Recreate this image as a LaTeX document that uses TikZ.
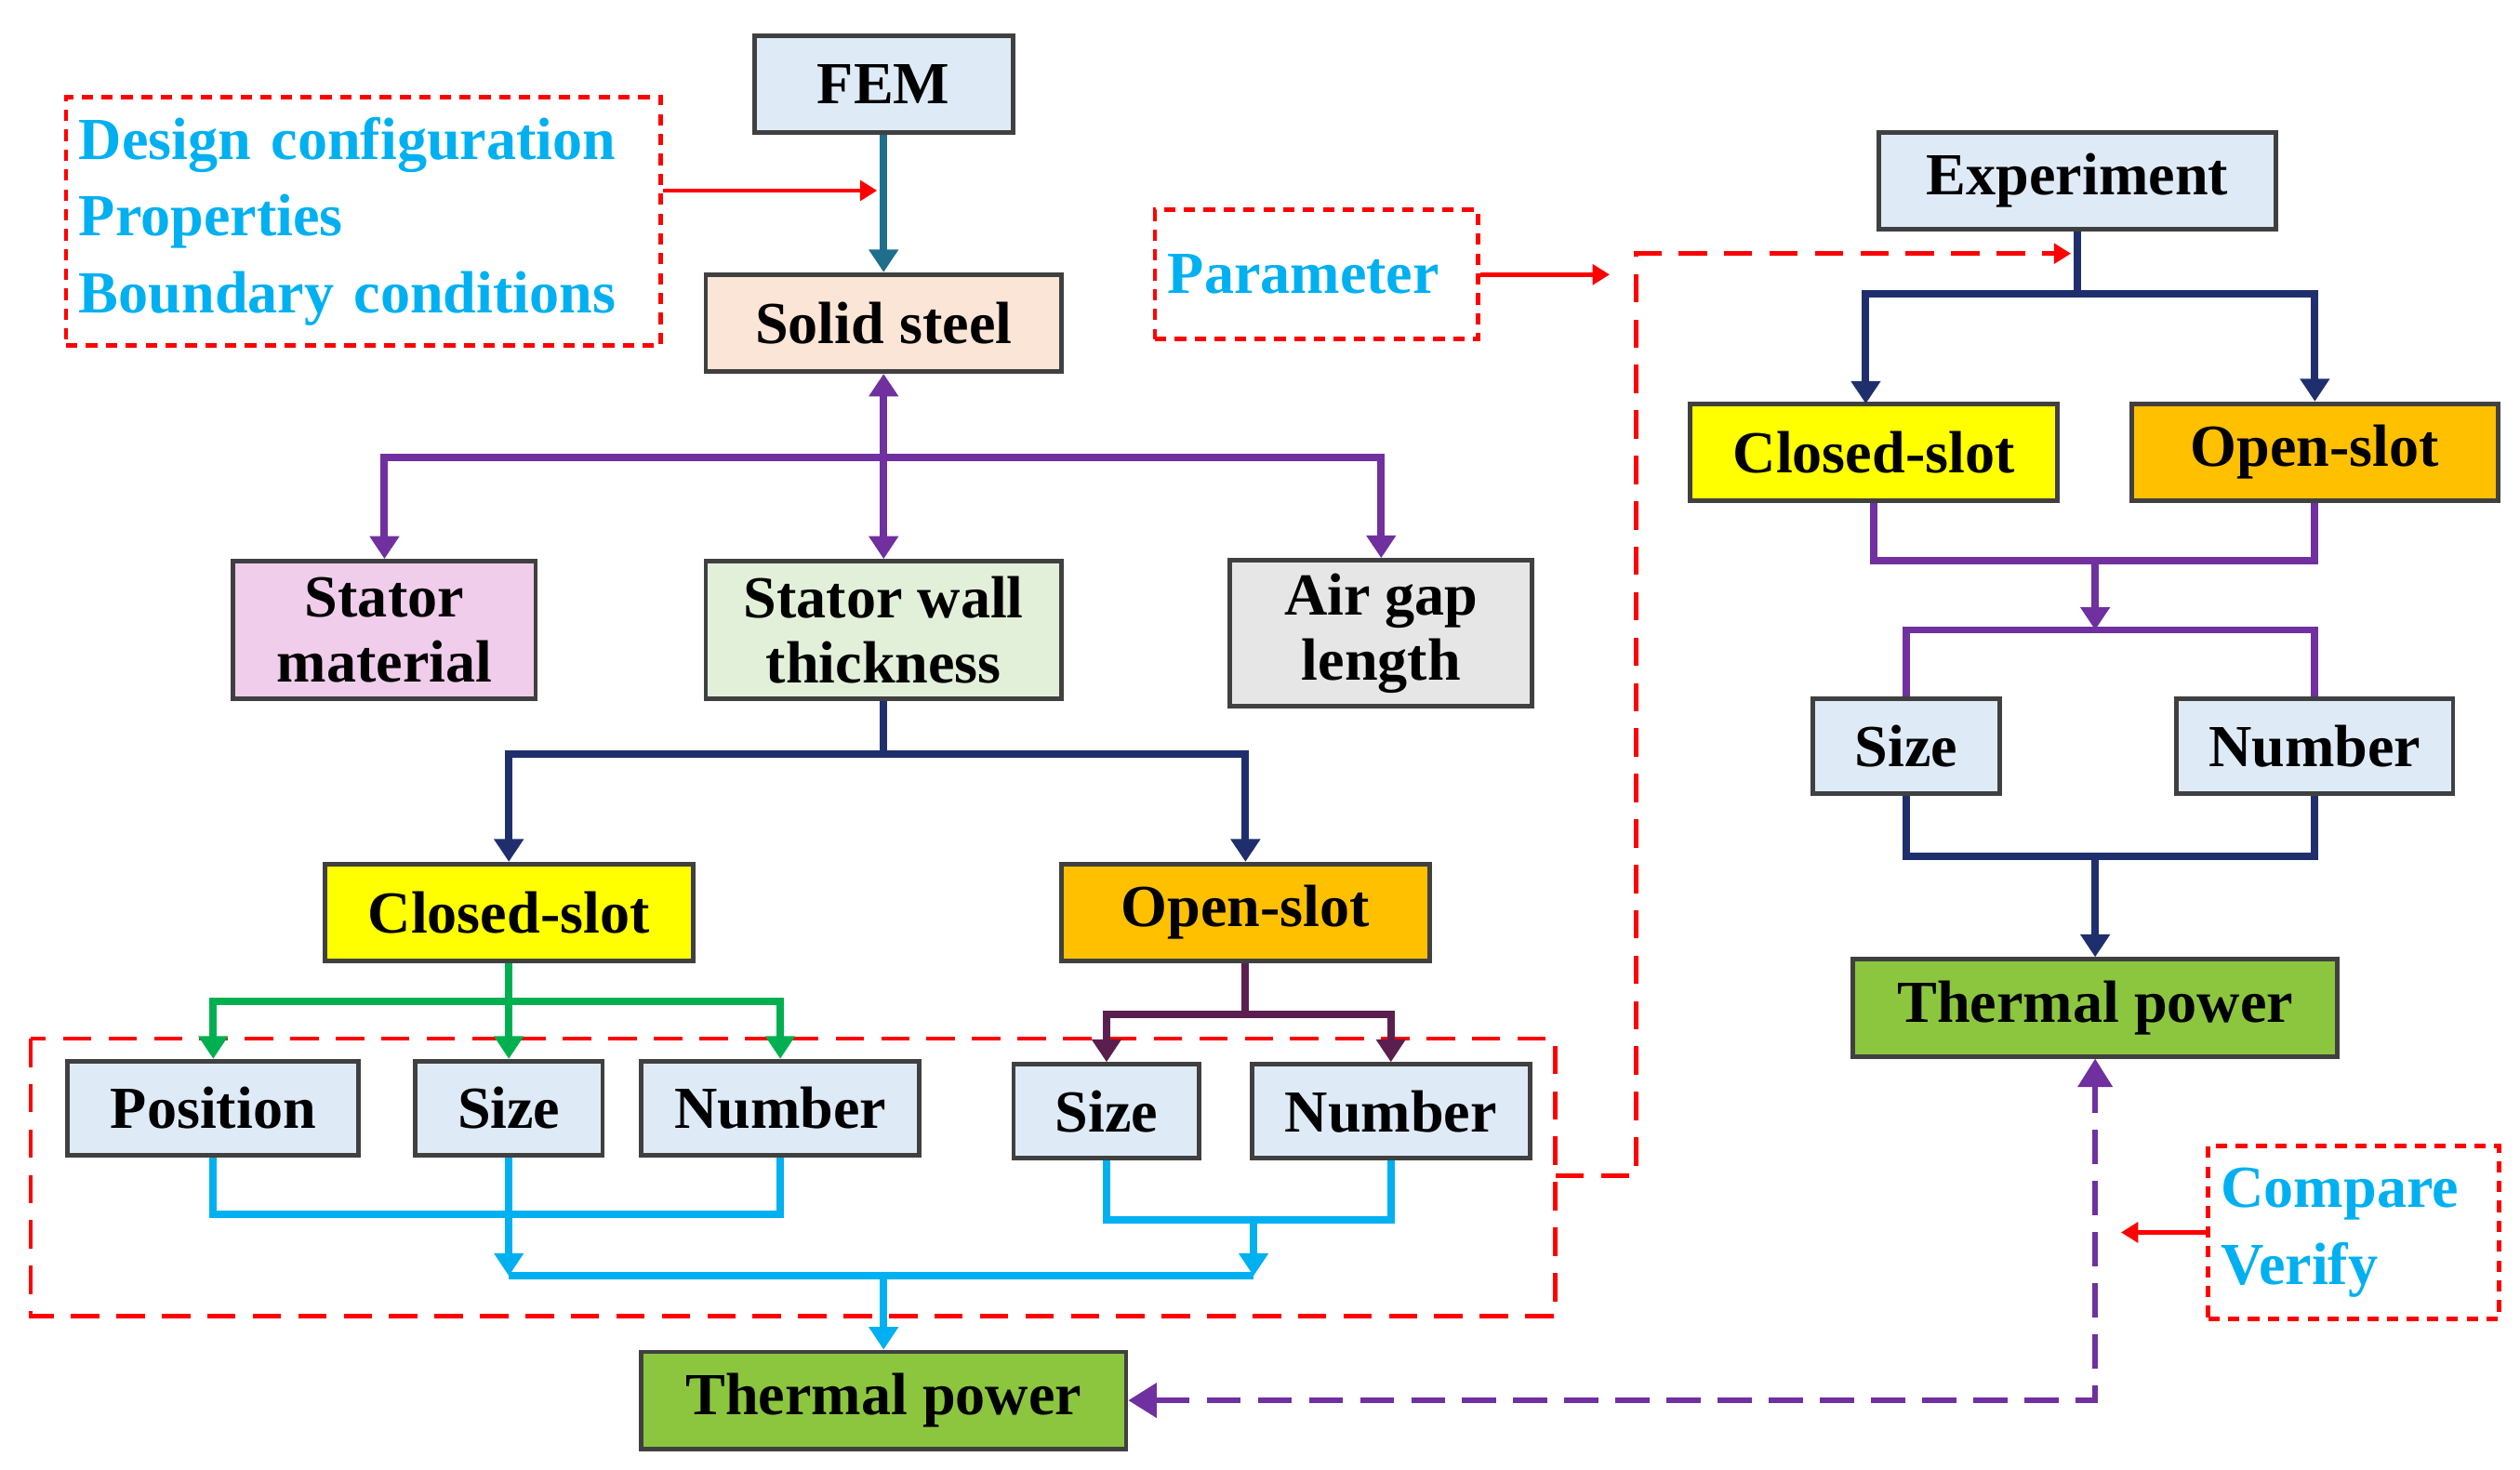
\documentclass[tikz,border=0pt]{standalone}
\usepackage{fontspec}
\setmainfont{Liberation Serif}
\usetikzlibrary{arrows.meta}
\definecolor{cBlue}{HTML}{DEEBF7}
\definecolor{cPeach}{HTML}{FBE5D6}
\definecolor{cPink}{HTML}{F0CDEB}
\definecolor{cMint}{HTML}{E2F0D9}
\definecolor{cGray}{HTML}{E7E6E6}
\definecolor{cYel}{HTML}{FFFF00}
\definecolor{cOra}{HTML}{FFC000}
\definecolor{cGrn}{HTML}{8CC63F}
\definecolor{cTxt}{HTML}{00B0F0}
\definecolor{cPur}{HTML}{7030A0}
\definecolor{cNavy}{HTML}{1F2F6E}
\definecolor{cTeal}{HTML}{1F6E8C}
\definecolor{cGL}{HTML}{00B050}
\definecolor{cPlum}{HTML}{5B1F4F}
\begin{document}
\begin{tikzpicture}[x=0.01cm,y=-0.01cm,
  box/.style={draw=black!75, line width=0.8pt, font=\fontsize{10.5}{11.5}\selectfont\bfseries, align=center, inner sep=1pt},
  note/.style={draw=red, dashed, dash pattern=on 2pt off 1.5pt, line width=0.8pt, font=\fontsize{10.5}{13.5}\selectfont\bfseries, text=cTxt, align=left, inner xsep=0.08cm, inner ysep=2pt},
  ln/.style={line width=1.3pt},
  arr/.style={ln, -{Triangle[length=4pt,width=5pt]}},
  red arr/.style={draw=red, line width=0.8pt, -{Triangle[length=3pt,width=3.5pt]}}]
\useasboundingbox (0,0) rectangle (1560,910);
% left branch
\node[box, fill=cBlue, minimum width=1.6cm, minimum height=0.6cm] (fem) at (547,52) {FEM};
\node[box, fill=cPeach, minimum width=2.2cm, minimum height=0.6cm] (steel) at (547,200) {Solid steel};
\node[box, fill=cPink, minimum width=1.87cm, minimum height=0.85cm] (smat) at (238,390) {Stator\\material};
\node[box, fill=cMint, minimum width=2.2cm, minimum height=0.85cm] (swall) at (547,390) {Stator wall\\thickness};
\node[box, fill=cGray, minimum width=1.87cm, minimum height=0.9cm] (gap) at (855,392) {Air gap\\length};
\node[box, fill=cYel, minimum width=2.28cm, minimum height=0.6cm] (lclosed) at (315,565) {Closed-slot};
\node[box, fill=cOra, minimum width=2.28cm, minimum height=0.6cm] (lopen) at (771,565) {Open-slot};
\node[box, fill=cBlue, minimum width=1.8cm, minimum height=0.58cm] (pos) at (132,686) {Position};
\node[box, fill=cBlue, minimum width=1.16cm, minimum height=0.58cm] (lsize) at (315,686) {Size};
\node[box, fill=cBlue, minimum width=1.72cm, minimum height=0.58cm] (lnum) at (483,686) {Number};
\node[box, fill=cBlue, minimum width=1.15cm, minimum height=0.58cm] (osize) at (685,688) {Size};
\node[box, fill=cBlue, minimum width=1.72cm, minimum height=0.58cm] (onum) at (861,688) {Number};
\node[box, fill=cGrn, minimum width=3cm, minimum height=0.6cm] (ltp) at (547,867) {Thermal power};
% right branch
\node[box, fill=cBlue, minimum width=2.46cm, minimum height=0.6cm] (exp) at (1286,112) {Experiment};
\node[box, fill=cYel, minimum width=2.27cm, minimum height=0.6cm] (rclosed) at (1160,280) {Closed-slot};
\node[box, fill=cOra, minimum width=2.27cm, minimum height=0.6cm] (ropen) at (1433,280) {Open-slot};
\node[box, fill=cBlue, minimum width=1.16cm, minimum height=0.59cm] (rsize) at (1180,462) {Size};
\node[box, fill=cBlue, minimum width=1.71cm, minimum height=0.59cm] (rnum) at (1433,462) {Number};
\node[box, fill=cGrn, minimum width=3cm, minimum height=0.6cm] (rtp) at (1297,624) {Thermal power};
% notes
\node[note, text width=3.52cm, minimum height=1.54cm] (design) at (225,137) {Design configuration\\Properties\\Boundary conditions};
\node[note, text width=1.84cm, minimum height=0.8cm] (param) at (815,170) {Parameter};
\node[note, text width=1.64cm, minimum height=1.07cm] (comp) at (1457,763) {Compare\\Verify};
\draw[red, dashed, dash pattern=on 5pt off 3pt, line width=0.8pt] (19,643) rectangle (963,815);
\coordinate (rt) at (963,728);
\draw[red, dash pattern=on 5pt off 3pt, line width=0.8pt, -{Triangle[length=3pt,width=3.5pt]}] (rt) -- (1013,728) -- (1013,157) -- (1282,157);
\draw[red arr] (param.east) -- ++(80,0);
\draw[red arr] (design.east |- 0,118) -- (543,118);
\draw[red arr] (comp.west) -- (1313,763);
% connectors left
\draw[arr, cTeal] (fem) -- (steel);
\draw[ln, cPur, {Triangle[length=4pt,width=5pt]}-{Triangle[length=4pt,width=5pt]}] (steel) -- (swall);
\draw[arr, cPur] (547,283) -| (smat.north);
\draw[arr, cPur] (547,283) -| (gap.north);
\draw[arr, cNavy] (swall.south) |- (315,467) -- (lclosed);
\draw[arr, cNavy] (547,467) -| (lopen);
\draw[arr, cGL] (lclosed) -- (lsize);
\draw[arr, cGL] (315,620) -| (pos);
\draw[arr, cGL] (315,620) -| (lnum);
\draw[ln, cPlum] (lopen) -- (771,628);
\draw[arr, cPlum] (771,628) -| (osize);
\draw[arr, cPlum] (771,628) -| (onum);
\draw[ln, cTxt] (pos) |- (315,752) -| (lnum);
\draw[arr, cTxt] (lsize) -- (315,790);
\draw[ln, cTxt] (osize) |- (776,755) -| (onum);
\draw[arr, cTxt] (776,755) -- (776,790);
\draw[ln, cTxt] (315,790) -- (776,790);
\draw[arr, cTxt] (547,790) -- (ltp);
% connectors right
\draw[ln, cNavy] (exp) -- (1286,182);
\draw[arr, cNavy] (1286,182) -| (1155,250);
\draw[arr, cNavy] (1286,182) -| (ropen);
\draw[ln, cPur] (rclosed.south) |- (1433,347) -- (ropen.south);
\draw[arr, cPur] (1297,347) -- (1297,390);
\draw[ln, cPur] (rsize) |- (1433,390) -- (rnum);
\draw[ln, cNavy] (rsize) |- (1433,530) -- (rnum);
\draw[arr, cNavy] (1297,530) -- (rtp);
\draw[cPur, line width=0.9pt, dash pattern=on 6pt off 3pt, {Triangle[length=5pt,width=6pt]}-{Triangle[length=5pt,width=6pt]}] (ltp.east) -- (1297,867) -- (rtp.south);
\end{tikzpicture}
\end{document}
